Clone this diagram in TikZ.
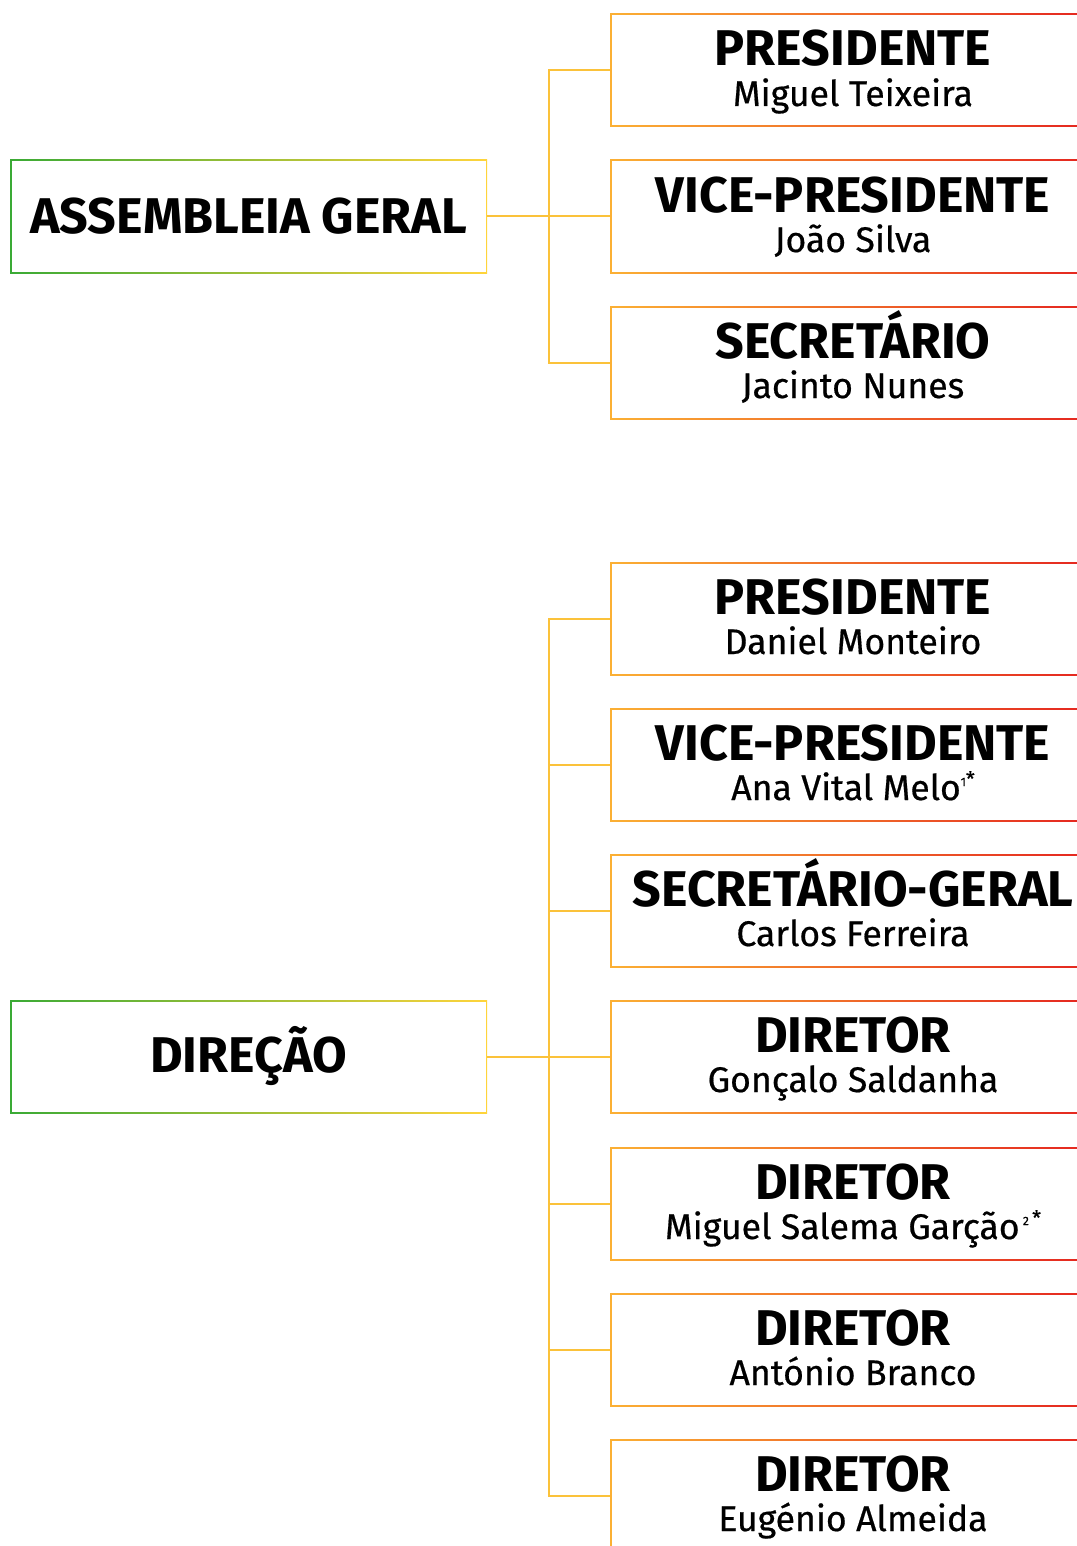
\documentclass[tikz,border=0pt]{standalone}
\usepackage{fontspec}
\setmainfont{Fira Sans}
\newfontfamily\namefont{Fira Sans}[FakeBold=0.5]
\usepackage{tikz}
\usetikzlibrary{positioning,calc}

\definecolor{agreen}{HTML}{3AAA35}
\definecolor{ayellow}{HTML}{FFD43B}
\definecolor{rorange}{HTML}{FBB034}
\definecolor{rred}{HTML}{E4231F}
\definecolor{lineyellow}{HTML}{FBC23A}

\newcommand{\rtitle}[1]{{\fontsize{25.1}{20}\selectfont\bfseries #1}}
\newcommand{\rname}[1]{{\namefont\fontsize{17.8}{20}\selectfont #1}}
\newcommand{\rnote}[1]{\raisebox{7pt}{\fontsize{10}{10}\selectfont #1}}

\begin{document}
\begin{tikzpicture}[x=0.5pt,y=-0.5pt,
    gradframe/.style={inner sep=0pt, align=center,
      path picture={\fill[white] ([shift={(0.75pt,0.75pt)}]path picture bounding box.south west) rectangle ([shift={(-0.75pt,-0.75pt)}]path picture bounding box.north east);}},
    leftbox/.style={gradframe, minimum width=238.5pt, minimum height=56.5pt, left color=agreen, right color=ayellow},
    rightbox/.style={gradframe, minimum width=243pt, minimum height=56.5pt, left color=rorange, right color=rred,
      font=\fontsize{17.8}{20}\selectfont, text height=40.5pt, text depth=5pt},
    conn/.style={draw=lineyellow, line width=1pt}]
      \useasboundingbox (0,0) rectangle (1076,1546);

      % Assembleia Geral
      \node[leftbox] (ag) at (248.5,216.5) {\rtitle{ASSEMBLEIA GERAL}};
      \node[rightbox] (agpres) at (853,70.5) {\rtitle{PRESIDENTE}\\\rname{Miguel Teixeira}};
      \node[rightbox] (agvice) at (853,216.5) {\rtitle{VICE-PRESIDENTE}\\\rname{João Silva}};
      \node[rightbox] (agsec) at (853,362.5) {\rtitle{SECRETÁRIO}\\\rname{Jacinto Nunes}};

      \draw[conn] (agpres.west) -- ++(-61,0) |- (agsec.west);
      \draw[conn] (ag.east) -- (agvice.west);

      % Direcao
      \node[leftbox] (dir) at (248.5,1056.5) {\rtitle{DIREÇÃO}};
      \node[rightbox] (dpres) at (853,618.5) {\rtitle{PRESIDENTE}\\\rname{Daniel Monteiro}};
      \node[rightbox] (dvice) at (853,764.5) {\rtitle{VICE-PRESIDENTE}\\\rname{Ana Vital Melo\rnote{{\fontsize{6}{6}\selectfont 1}*}}};
      \node[rightbox] (dsec) at (853,910.5) {\rtitle{SECRETÁRIO-GERAL}\\\rname{Carlos Ferreira}};
      \node[rightbox] (ddir1) at (853,1056.5) {\rtitle{DIRETOR}\\\rname{Gonçalo Saldanha}};
      \node[rightbox] (ddir2) at (853,1203.5) {\rtitle{DIRETOR}\\\rname{Miguel Salema Garção\rnote{\,{\fontsize{6}{6}\selectfont 2}\,*}}};
      \node[rightbox] (ddir3) at (853,1349.5) {\rtitle{DIRETOR}\\\rname{António Branco}};
      \node[rightbox] (ddir4) at (853,1495.5) {\rtitle{DIRETOR}\\\rname{Eugénio Almeida}};

      \draw[conn] (dpres.west) -- ++(-61,0) |- (ddir4.west);
      \draw[conn] (dvice.west) -- ++(-61,0);
      \draw[conn] (dsec.west) -- ++(-61,0);
      \draw[conn] (ddir2.west) -- ++(-61,0);
      \draw[conn] (ddir3.west) -- ++(-61,0);
      \draw[conn] (dir.east) -- (ddir1.west);
\end{tikzpicture}
\end{document}
